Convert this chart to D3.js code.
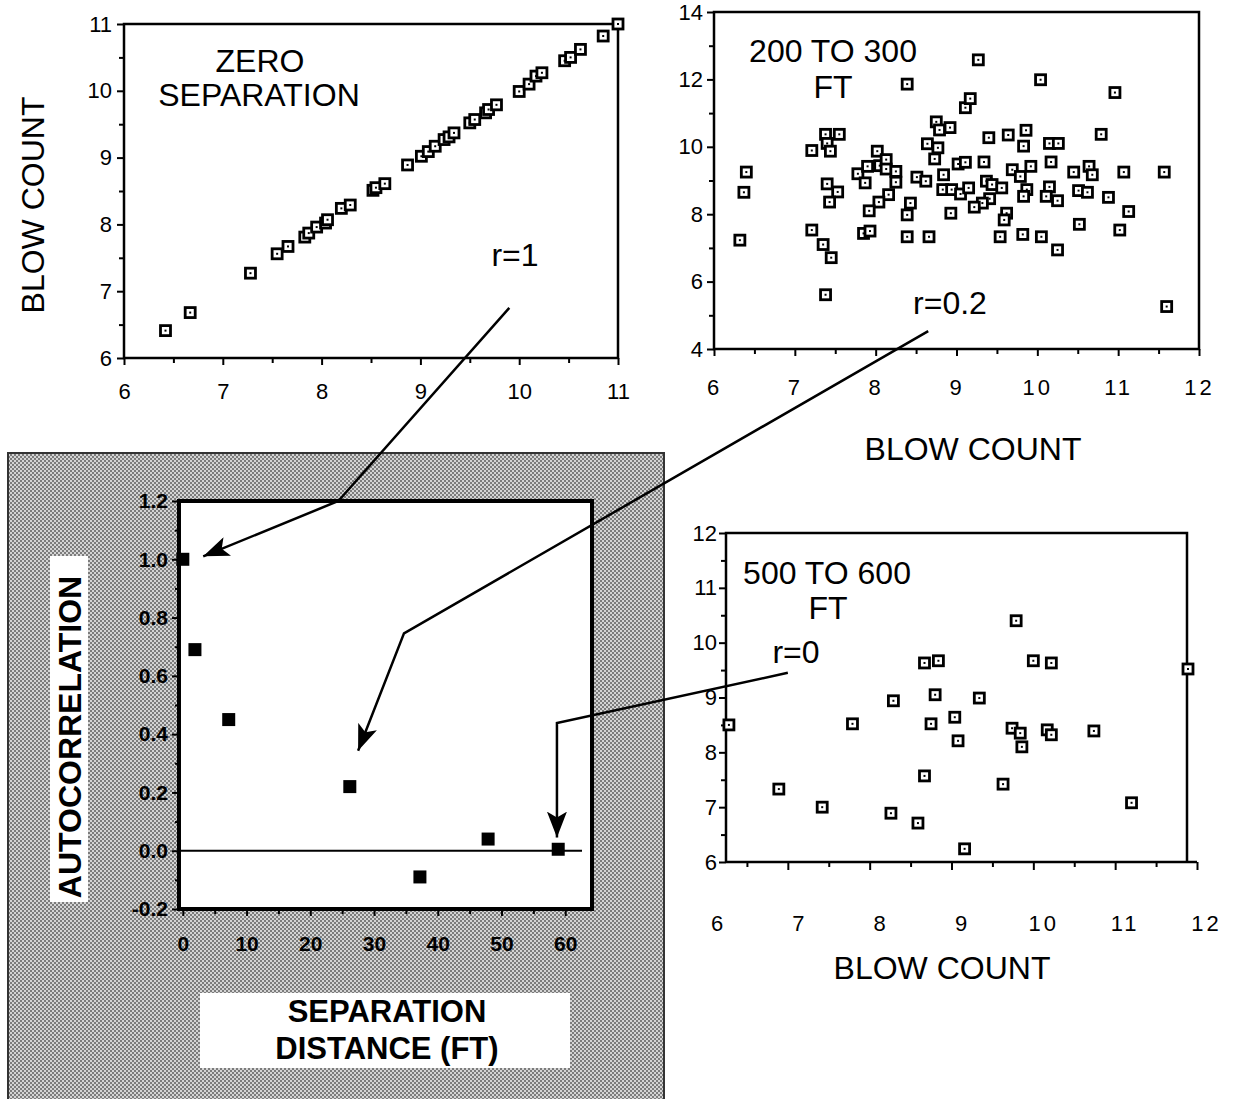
<!DOCTYPE html>
<html>
<head>
<meta charset="utf-8">
<style>
  html, body { margin: 0; padding: 0; background: #fff; }
  svg { display: block; font-family: "Liberation Sans", Arial, sans-serif; }
  .frame { fill: none; stroke: #000; stroke-width: 2.5px; }
  .axis path, .axis line { stroke: #000; stroke-width: 2px; }
  .axis text { font-size: 22px; fill: #000; font-family: "Liberation Sans", Arial, sans-serif; }
  .bold text { font-weight: bold; font-size: 21px; }
  .lbl { font-size: 32px; fill: #000; }
  .leader { fill: none; stroke: #000; stroke-width: 2.5px; }
</style>
</head>
<body>
<svg width="1233" height="1099"></svg>
<script src="https://d3js.org/d3.v7.min.js"></script>
<script>

// zero separation pairs (blow count vs blow count)
var zeroX = [6.42, 6.67, 7.28, 7.55, 7.66, 7.83, 7.87, 7.95, 8.04, 8.06, 8.2, 8.29, 8.52, 8.55, 8.64,
             8.87, 9.01, 9.08, 9.15, 9.24, 9.29, 9.34, 9.5, 9.55, 9.66, 9.69, 9.77, 10.0, 10.1, 10.17,
             10.23, 10.46, 10.52, 10.62, 10.85, 11.0];
var zeroY = [6.41, 6.68, 7.27, 7.56, 7.67, 7.81, 7.87, 7.96, 8.02, 8.07, 8.24, 8.29, 8.51, 8.55, 8.61,
             8.89, 9.02, 9.09, 9.17, 9.27, 9.31, 9.37, 9.52, 9.57, 9.67, 9.72, 9.79, 9.99, 10.1, 10.22,
             10.27, 10.45, 10.5, 10.62, 10.82, 11.0];

// 200 to 300 ft separation
var midX = [6.32, 6.40, 6.37, 7.21, 7.38, 7.55, 7.40, 7.44, 7.40, 7.53, 7.43, 7.21, 7.35, 7.45, 7.38,
            8.02, 7.78, 7.90, 7.87, 8.05, 8.13, 8.13, 8.25, 8.25, 8.16, 8.04, 7.92, 7.85, 7.93,
            8.39, 8.51, 8.62, 8.43, 8.39, 8.39, 8.66, 8.64, 8.75, 8.79, 8.92, 8.77, 8.73, 8.84, 8.83,
            8.94, 9.05, 9.15, 8.93, 9.02, 9.11, 9.11, 9.17, 9.27, 9.34, 9.37, 9.44, 9.56, 9.41, 9.32,
            9.22, 9.40, 9.64, 9.62, 9.59, 9.54, 9.69, 9.79, 9.92, 9.86, 9.83, 9.87, 9.83, 9.82, 10.05,
            10.04, 10.17, 10.15, 10.26, 10.15, 10.11, 10.25, 10.25, 10.45, 10.64, 10.68, 10.51, 10.62,
            10.79, 10.88, 10.96, 11.07, 10.52, 11.02, 11.13, 11.57, 11.60];
var midY = [7.23, 9.25, 8.65, 9.89, 10.37, 10.37, 10.1, 9.87, 8.9, 8.66, 8.36, 7.53, 7.1, 6.71, 5.61,
            9.87, 9.2, 9.42, 8.93, 9.44, 9.62, 9.34, 9.27, 8.95, 8.58, 8.36, 8.1, 7.43, 7.5,
            11.86, 9.1, 8.98, 8.33, 7.98, 7.33, 7.33, 10.09, 10.74, 10.5, 10.57, 9.97, 9.64, 9.17, 8.73,
            8.73, 8.6, 8.78, 8.03, 9.49, 9.54, 11.16, 11.43, 12.58, 9.55, 8.98, 8.88, 8.78, 8.46, 8.33,
            8.21, 10.27, 10.35, 8.03, 7.83, 7.33, 9.32, 9.12, 9.42, 10.49, 10.02, 8.73, 8.53, 7.4, 7.33,
            11.99, 9.55, 10.1, 10.1, 8.81, 8.53, 8.4, 6.94, 9.25, 9.42, 9.17, 8.7, 8.65,
            10.37, 8.5, 11.61, 9.25, 7.7, 7.53, 8.08, 9.25, 5.26];

// 500 to 600 ft separation
var farX = [6.28, 6.89, 7.42, 7.79, 8.29, 8.26, 8.59, 8.67, 8.84, 8.80, 8.75, 8.67, 9.04, 9.08,
            9.34, 9.16, 9.79, 9.63, 9.74, 9.84, 9.86, 10.0, 10.22, 10.17, 10.22, 10.74, 11.2, 11.89];
var farY = [8.50, 7.33, 7.00, 8.52, 8.94, 6.89, 6.71, 9.63, 9.67, 9.05, 8.52, 7.57, 8.64, 8.21,
            8.99, 6.24, 10.40, 7.42, 8.44, 8.35, 8.10, 9.67, 9.63, 8.41, 8.32, 8.39, 7.08, 9.52];

// autocorrelation vs separation distance
var sepDist = [0, 1.9, 7.2, 26.2, 37.2, 47.9, 58.9];
var autoCorr = [1.0, 0.69, 0.45, 0.22, -0.09, 0.04, 0.005];

var svg = d3.select("svg");

function zip(xs, ys) { return xs.map(function(x, i) { return [x, ys[i]]; }); }

function openSquares(g, pts, x, y) {
  var s = g.append("g").selectAll("g").data(pts).enter().append("g")
      .attr("transform", function(d) { return "translate(" + x(d[0]) + "," + y(d[1]) + ")"; });
  s.append("rect").attr("x", -5).attr("y", -5).attr("width", 10).attr("height", 10)
      .attr("fill", "#fff").attr("stroke", "#000").attr("stroke-width", 2.8);
  s.append("rect").attr("x", -1).attr("y", -1).attr("width", 2).attr("height", 2).attr("fill", "#000");
}

// major + minor ticks on one axis
function ticks(g, axisFn, scale, major, minor, majorSize, minorSize, pad, fmt) {
  g.append("g").attr("class", "axis").call(axisFn(scale).tickValues(minor).tickSize(minorSize).tickFormat(""))
    .call(function(a) { a.select(".domain").remove(); });
  var m = g.append("g").attr("class", "axis").call(axisFn(scale).tickValues(major).tickSize(majorSize)
      .tickPadding(pad).tickFormat(fmt || d3.format("d")));
  m.select(".domain").remove();
  return m;
}

/* ---------- top left: zero separation ---------- */
var x1 = d3.scaleLinear().domain([6, 11]).range([124, 618]);
var y1 = d3.scaleLinear().domain([6, 11]).range([358, 24]);
var p1 = svg.append("g");
p1.append("path").attr("class", "frame")
  .attr("d", "M" + x1(6) + "," + y1(6) + "H" + x1(11) + "V" + y1(11) + "H" + x1(6) + "Z");
ticks(p1.append("g").attr("transform", "translate(0," + y1(6) + ")"), d3.axisBottom, x1,
      d3.range(6, 11.01, 1), d3.range(6.5, 11, 1), 7, 5, 18);
ticks(p1.append("g").attr("transform", "translate(" + x1(6) + ",0)"), d3.axisLeft, y1,
      d3.range(6, 11.01, 1), d3.range(6.5, 11, 1), 7, 5, 5);
openSquares(p1, zip(zeroX, zeroY), x1, y1);
p1.append("text").attr("class", "lbl").attr("x", 260).attr("y", 72).attr("text-anchor", "middle").text("ZERO");
p1.append("text").attr("class", "lbl").attr("x", 259).attr("y", 106).attr("text-anchor", "middle").text("SEPARATION");
p1.append("text").attr("class", "lbl").attr("x", 515).attr("y", 266).attr("text-anchor", "middle").text("r=1");
p1.append("text").attr("class", "lbl").attr("transform", "translate(44,205) rotate(-90)")
  .attr("text-anchor", "middle").text("BLOW COUNT");

/* ---------- top right: 200 to 300 ft ---------- */
var x2 = d3.scaleLinear().domain([6, 12]).range([714, 1199]);
var y2 = d3.scaleLinear().domain([4, 14]).range([349, 12]);
var p2 = svg.append("g");
p2.append("path").attr("class", "frame")
  .attr("d", "M" + x2(6) + "," + y2(4) + "H" + x2(12) + "V" + y2(14) + "H" + x2(6) + "Z");
ticks(p2.append("g").attr("transform", "translate(0," + y2(4) + ")"), d3.axisBottom, x2,
      d3.range(6, 12.01, 1), d3.range(6.5, 12, 1), 7, 5, 23)
  .selectAll("text").attr("letter-spacing", "3px");
ticks(p2.append("g").attr("transform", "translate(" + x2(6) + ",0)"), d3.axisLeft, y2,
      d3.range(4, 14.01, 2), d3.range(5, 14, 2), 7, 5, 4);
openSquares(p2, zip(midX, midY), x2, y2);
p2.append("text").attr("class", "lbl").attr("x", 833).attr("y", 62).attr("text-anchor", "middle").text("200 TO 300");
p2.append("text").attr("class", "lbl").attr("x", 833).attr("y", 98).attr("text-anchor", "middle").text("FT");
p2.append("text").attr("class", "lbl").attr("x", 950).attr("y", 314).attr("text-anchor", "middle").text("r=0.2");
p2.append("text").attr("class", "lbl").attr("x", 973).attr("y", 460).attr("text-anchor", "middle").text("BLOW COUNT");

/* ---------- bottom right: 500 to 600 ft ---------- */
var x3 = d3.scaleLinear().domain([6, 12]).range([706, 1197]);
var x3lab = d3.scaleLinear().domain([6, 12]).range([718, 1206]);
var y3 = d3.scaleLinear().domain([6, 12]).range([862, 533]);
var left3 = 726, right3 = 1187;
var p3 = svg.append("g");
p3.append("path").attr("class", "frame")
  .attr("d", "M" + left3 + "," + y3(6) + "H" + x3(12) + "M" + right3 + "," + y3(6) + "V" + y3(12) + "H" + left3 + "V" + y3(6));
ticks(p3.append("g").attr("transform", "translate(0," + y3(6) + ")"), d3.axisBottom, x3,
      d3.range(7, 12.01, 1), d3.range(6.5, 12, 1), 8, 5, 0).selectAll("text").remove();
p3.append("g").attr("class", "axis").attr("transform", "translate(0," + (y3(6) + 50) + ")")
  .call(d3.axisBottom(x3lab).tickValues(d3.range(6, 12.01, 1)).tickSize(0).tickFormat(d3.format("d")))
  .call(function(a) { a.select(".domain").remove(); })
  .selectAll("text").attr("letter-spacing", "3px");
ticks(p3.append("g").attr("transform", "translate(" + left3 + ",0)"), d3.axisLeft, y3,
      d3.range(6, 12.01, 1), d3.range(6.5, 12, 1), 7, 5, 2);
openSquares(p3, zip(farX, farY), x3, y3);
p3.append("text").attr("class", "lbl").attr("x", 827).attr("y", 584).attr("text-anchor", "middle").text("500 TO 600");
p3.append("text").attr("class", "lbl").attr("x", 828).attr("y", 619).attr("text-anchor", "middle").text("FT");
p3.append("text").attr("class", "lbl").attr("x", 796).attr("y", 663).attr("text-anchor", "middle").text("r=0");
p3.append("text").attr("class", "lbl").attr("x", 942).attr("y", 979).attr("text-anchor", "middle").text("BLOW COUNT");

/* ---------- bottom left: autocorrelation ---------- */
var defs = svg.append("defs");
var pat = defs.append("pattern").attr("id", "dither").attr("patternUnits", "userSpaceOnUse")
  .attr("width", 4).attr("height", 4);
pat.append("rect").attr("width", 4).attr("height", 4).attr("fill", "#d4d4d4");
[[0, 0], [2, 2]].forEach(function(p) {
  pat.append("rect").attr("x", p[0]).attr("y", p[1]).attr("width", 2).attr("height", 2).attr("fill", "#7c7c7c");
});

var x4 = d3.scaleLinear().domain([-0.6, 64.2]).range([179, 592]);
var y4 = d3.scaleLinear().domain([-0.2, 1.2]).range([909, 501]);
var p4 = svg.append("g");
p4.append("rect").attr("x", 8).attr("y", 453).attr("width", 656).attr("height", 660)
  .attr("fill", "url(#dither)").attr("stroke", "#333").attr("stroke-width", 2);
p4.append("rect").attr("x", x4.range()[0]).attr("y", y4.range()[1])
  .attr("width", x4.range()[1] - x4.range()[0]).attr("height", y4.range()[0] - y4.range()[1])
  .attr("fill", "#fff").attr("stroke", "#000").attr("stroke-width", 4);
p4.append("line").attr("x1", x4.range()[0]).attr("x2", x4.range()[1] - 10)
  .attr("y1", y4(0)).attr("y2", y4(0)).attr("stroke", "#000").attr("stroke-width", 2);
var ax4 = ticks(p4.append("g").attr("transform", "translate(0," + y4(-0.2) + ")"), d3.axisBottom, x4,
      d3.range(0, 60.1, 10), d3.range(5, 65, 10), 7, 5, 20);
ax4.attr("class", "axis bold").selectAll("text").attr("font-size", "22px");
var ay4 = ticks(p4.append("g").attr("transform", "translate(" + x4(-0.6) + ",0)"), d3.axisLeft, y4,
      [-0.2, 0, 0.2, 0.4, 0.6, 0.8, 1.0, 1.2], [-0.1, 0.1, 0.3, 0.5, 0.7, 0.9, 1.1], 7, 4, 4,
      function(d) { return d3.format(".1f")(d).replace("\u2212", "-"); });
ay4.attr("class", "axis bold");
p4.append("g").selectAll("rect").data(zip(sepDist, autoCorr)).enter().append("rect")
  .attr("x", function(d) { return x4(d[0]) - 6.5; })
  .attr("y", function(d) { return y4(d[1]) - 6.5; })
  .attr("width", 13).attr("height", 13).attr("fill", "#000");

p4.append("rect").attr("x", 50).attr("y", 556).attr("width", 38).attr("height", 346).attr("fill", "#fff");
p4.append("text").attr("transform", "translate(81,737) rotate(-90)").attr("text-anchor", "middle")
  .attr("font-weight", "bold").attr("font-size", "32px").text("AUTOCORRELATION");
p4.append("rect").attr("x", 200).attr("y", 993).attr("width", 370).attr("height", 75).attr("fill", "#fff");
p4.append("text").attr("x", 387).attr("y", 1022).attr("text-anchor", "middle")
  .attr("font-weight", "bold").attr("font-size", "31px").text("SEPARATION");
p4.append("text").attr("x", 387).attr("y", 1059).attr("text-anchor", "middle")
  .attr("font-weight", "bold").attr("font-size", "31px").text("DISTANCE (FT)");

/* ---------- leader arrows ---------- */
defs.append("marker").attr("id", "head").attr("markerUnits", "userSpaceOnUse")
  .attr("viewBox", "0 -10 26 20").attr("refX", 26).attr("refY", 0)
  .attr("markerWidth", 26).attr("markerHeight", 20).attr("orient", "auto")
  .append("path").attr("d", "M0,-10L26,0L0,10L6,0Z").attr("fill", "#000");

var leaders = [
  [[x1(9.9), y1(6.75)], [x4(24.4), y4(1.2)], [x4(3.2), y4(1.01)]],
  [[x2(8.65), y2(4.53)], [x4(34.7), y4(0.746)], [x4(27.5), y4(0.343)]],
  [[x3(7.0), y3(9.45)], [x4(58.7), y4(0.438)], [x4(58.7), y4(0.045)]]
];
svg.append("g").selectAll("path").data(leaders).enter().append("path")
  .attr("class", "leader").attr("d", d3.line()).attr("marker-end", "url(#head)");

</script>
</body>
</html>
